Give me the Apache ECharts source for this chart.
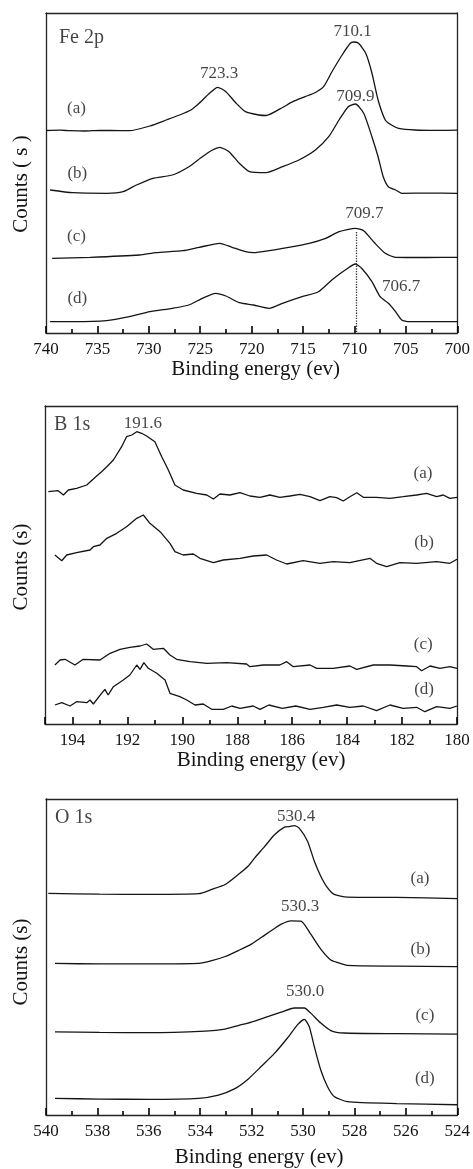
<!DOCTYPE html>
<html>
<head>
<meta charset="utf-8">
<script src="https://cdn.jsdelivr.net/npm/echarts@6/dist/echarts.min.js"></script>
<style>
  html, body { margin: 0; padding: 0; background: #fff; }
  #chart { width: 473px; height: 1169px; }
</style>
</head>
<body>
<div id="chart"></div>
<script>
// ---------- DATA (binding energy in eV, intensity in arbitrary counts) ----------
// Fe 2p spectra
const fe2pA = [[740.0,202.5],[738.6,202.8],[737.7,202.3],[736.2,202.0],[734.8,202.6],[732.8,202.4],[731.9,202.3],[729.9,207],[728.3,213],[727.0,218],[725.9,223],[725.1,229.7],[724.1,239.7],[723.3,245.7],[722.5,241.3],[721.5,229.7],[720.6,221.3],[719.3,218],[718.6,217.5],[717.0,225.5],[716.0,231.3],[714.8,236.3],[713.8,240.5],[713.0,246.3],[712.2,261],[711.2,278],[710.4,289.7],[710.1,291],[709.6,289.7],[708.9,279.7],[708.3,260],[707.7,233],[707.0,213],[706.4,208],[705.7,204.7],[704.1,203],[702.0,202.6],[700.0,202.8]];
const fe2pB = [[739.6,143],[737.4,140.3],[734.1,139.7],[732.5,141.3],[731.2,148],[729.6,154.7],[727.7,158],[726.1,166.3],[724.8,176.3],[723.8,183],[723.1,185.7],[722.2,181.3],[721.2,169.7],[720.2,161.3],[718.6,160.3],[717.0,166.3],[715.4,173],[713.8,183],[712.5,196.3],[711.5,213],[710.6,226.3],[709.9,229],[709.1,219.7],[708.3,196.3],[707.7,176.3],[707.2,156.3],[706.7,146.3],[706.0,143],[705.4,139.7],[702.8,139.9],[700.0,139.7]];
const fe2pC = [[739.4,74.7],[735.7,75.7],[730.9,78],[729.3,80.3],[726.7,82.3],[725.1,85.7],[723.1,89.7],[721.9,85.7],[720.6,81.3],[719.8,80.3],[718.3,82.3],[716.4,85.7],[714.4,89.7],[712.8,94.7],[711.5,101.3],[709.9,104.7],[709.1,102.3],[708.0,89.7],[707.0,79.7],[706.0,75.7],[703.0,75.5],[700.0,75.7]];
const fe2pD = [[739.6,11.3],[737.4,11.3],[734.1,12.3],[731.9,16.3],[729.9,21.3],[727.7,24.7],[726.1,28],[724.8,34.7],[723.5,39.7],[722.5,37],[721.2,30.3],[719.8,28],[718.3,24.7],[717.0,29.7],[715.1,36.3],[713.5,41.3],[712.2,53],[710.9,63],[709.9,69],[709.3,64.7],[708.3,51.3],[707.5,36.3],[706.7,29.7],[706.0,21.3],[705.4,13],[704.7,11.3],[700.0,11.3]];
const fe2pRefLine = [709.8, 101];

// B 1s spectra
const b1sA = [[194.88,232.3],[194.52,233.3],[194.33,229],[194.15,234],[193.85,235.7],[193.48,239],[193.12,248],[192.94,252.3],[192.75,257.3],[192.51,264],[192.21,277.3],[192.03,287.3],[191.84,289],[191.66,292.3],[191.48,290.7],[191.30,288],[191.00,282.3],[190.75,267.3],[190.51,254],[190.27,239],[189.97,234],[189.48,230.7],[189.11,229],[188.87,225],[188.63,230],[188.27,229],[187.90,231.3],[187.54,228],[187.17,226.7],[186.81,229],[186.45,226.7],[186.08,228],[185.72,229.7],[185.35,227.3],[184.99,223.3],[184.63,227.3],[184.38,226.3],[184.14,223],[183.90,227.3],[183.65,231.3],[183.41,226.7],[182.93,226.7],[182.44,225.7],[181.96,227.3],[181.47,229],[181.11,230.7],[180.74,227.3],[180.50,229],[180.26,225.7],[180.00,226.7]];
const b1sB = [[194.64,169],[194.39,163.3],[194.21,169],[193.85,171.3],[193.36,174],[193.24,177.3],[193.0,179],[192.75,185.7],[192.39,190.7],[192.03,197.3],[191.66,205.7],[191.42,209],[191.18,200.7],[190.81,192.3],[190.45,180.7],[190.27,172.3],[189.97,169],[189.60,170],[189.36,165.7],[188.87,161.3],[188.51,164],[187.90,165.7],[187.42,168],[186.93,169],[186.57,164],[186.20,160],[185.60,163.3],[184.99,160.7],[184.51,162.3],[183.90,161.3],[183.17,165.7],[182.93,160.7],[182.56,157.3],[182.08,161.3],[181.47,160.7],[180.74,162.3],[180.26,160.7],[180.0,164.7]];
const b1sC = [[194.64,59],[194.45,64],[194.27,64.7],[193.91,59],[193.61,64.7],[193.0,64],[192.63,70.7],[192.27,74.7],[191.91,76.7],[191.54,78],[191.30,80],[191.06,74.7],[190.69,75.7],[190.45,69],[190.21,64.7],[189.72,62.3],[189.11,60.7],[188.39,61.3],[187.66,60],[187.54,57.3],[187.05,59],[186.45,59],[186.20,62.3],[185.96,57.3],[185.35,59],[185.11,55.7],[184.51,55.7],[183.90,58],[183.65,54.7],[183.05,59],[182.44,59],[181.83,58],[181.47,57.3],[181.29,53.3],[180.98,58],[180.62,55.7],[180.26,57.3],[180.0,55.7]];
const b1sD = [[194.64,19],[194.39,21.3],[194.09,18],[193.85,22.3],[193.48,21.3],[193.36,24],[193.24,20],[192.94,30.7],[192.82,34.7],[192.70,29],[192.51,37.3],[192.15,44],[191.91,49],[191.66,59],[191.54,54.7],[191.40,61.3],[191.24,55.7],[190.93,50.7],[190.63,44],[190.45,30.7],[190.09,27.3],[189.84,24],[189.54,19],[189.24,20],[188.93,14.7],[188.51,14.7],[188.20,18],[187.90,15.7],[187.42,18],[187.17,14.7],[186.85,19],[186.36,15.7],[185.87,18],[185.35,14.7],[184.87,16.7],[184.38,19],[183.90,16.7],[183.41,18],[182.93,13.3],[182.44,19],[181.96,15.7],[181.47,16.7],[181.17,12.3],[180.74,17.3],[180.26,15.7],[180.0,18]];

// O 1s spectra
const o1sA = [[539.91,223],[537.92,222.3],[535.99,222],[534.06,222.7],[533.55,227],[533.03,232],[532.52,242],[532.14,250.3],[531.88,258.7],[531.49,270.3],[531.11,282],[530.72,289.7],[530.53,290.3],[530.34,291.3],[530.15,288.7],[529.82,275.3],[529.56,255.3],[529.31,240.3],[529.05,228.7],[528.79,222],[528.28,219.3],[526.35,219],[524.0,217.7]];
const o1sB = [[539.65,152.5],[537.92,152],[535.99,152],[534.06,152.5],[533.55,155.3],[533.03,159.5],[532.52,165.5],[532.01,172],[531.49,181],[531.11,187.7],[530.85,192],[530.47,195.3],[530.08,195],[529.70,182],[529.31,167],[528.92,156],[528.67,153.5],[528.28,150.5],[526.35,149.8],[524.0,149.3]];
const o1sC = [[539.65,83.7],[537.92,83.2],[535.99,82.8],[533.80,84.5],[533.03,86.5],[532.52,90],[532.01,93.5],[531.49,98],[530.85,103.5],[530.34,107.7],[529.95,107.7],[529.70,102.5],[529.31,92.5],[528.92,85],[528.41,82.5],[526.35,81.8],[524.0,81.3]];
const o1sD = [[539.65,16.8],[537.92,16],[535.99,15.8],[534.06,16.8],[533.29,20],[532.65,26.5],[532.14,36],[531.62,49],[531.11,62],[530.59,78],[530.21,91],[529.95,96.3],[529.76,89],[529.56,68.7],[529.31,45.3],[529.05,28.7],[528.79,18.7],[528.28,13.5],[526.35,11.5],[524.0,10.3]];

// Axis ranges / ticks
const xRanges = [[700, 740, 5], [180, 195, 2], [524, 540, 2]];
const yMax = [320, 318, 318];
const xTitle = 'Binding energy (ev)';
const yTitles = ['Counts ( s )', 'Counts (s)', 'Counts (s)'];

// Annotation texts with their data coordinates [eV, counts, text]
const titleAnchors = [[738.74, 295, 'Fe 2p'], [194.67, 299, 'B 1s'], [539.65, 298.7, 'O 1s']];
const peakTexts = [
  [[723.15, 259, '723.3'], [710.17, 301.3, '710.1'], [709.91, 236.3, '709.9'], [709.03, 119.7, '709.7'], [705.47, 46.3, '706.7']],
  [[191.44, 300.7, '191.6']],
  [[530.27, 300.3, '530.4'], [530.11, 209.3, '530.3'], [529.92, 124.3, '530.0']]
];
const curveTags = [
  [[737.03, 224.7, '(a)'], [736.95, 159.7, '(b)'], [737.03, 96.3, '(c)'], [736.95, 34.7, '(d)']],
  [[181.24, 250.7, '(a)'], [181.20, 181.7, '(b)'], [181.23, 79, '(c)'], [181.20, 34, '(d)']],
  [[525.45, 237.7, '(a)'], [525.43, 167, '(b)'], [525.26, 100.3, '(c)'], [525.26, 37, '(d)']]
];
const spectra = [[fe2pA, fe2pB, fe2pC, fe2pD], [b1sA, b1sB, b1sC, b1sD], [o1sA, o1sB, o1sC, o1sD]];

// ---------- LAYOUT / STYLE ----------
const FONT = '"Liberation Serif", "Times New Roman", serif';
const INK = '#141414';
const FRAME = '#222';
const TEXT = '#151515';
const grids = [
  { left: 46, top: 13, width: 413, height: 320 },
  { left: 45, top: 406, width: 412, height: 318 },
  { left: 46, top: 799, width: 415, height: 318 }
];
const nameGaps = [26, 26, 32];
const namePad = [8, 20, 15];
const showMax = [true, false, true];
const smoothing = [0.2, 0, 0.2];
const yTitlePos = [[21, 184], [21, 567], [21, 962]];
const frameLine = () => ({ show: true, onZero: false, lineStyle: { color: FRAME, width: 1.3 } });

const chart = echarts.init(document.getElementById('chart'), null, { renderer: 'canvas' });

const bottomAxes = xRanges.map((r, i) => ({
  type: 'value', gridIndex: i, position: 'bottom', inverse: true,
  min: r[0], max: r[1], interval: r[2],
  axisLine: frameLine(),
  axisTick: { show: true, inside: true, length: 7, lineStyle: { color: '#000', width: 1.6 } },
  minorTick: { show: true, splitNumber: 2, length: 4, lineStyle: { color: '#000', width: 1.6 } },
  axisLabel: { margin: 8, fontFamily: FONT, fontSize: 17, color: TEXT, showMinLabel: true, showMaxLabel: showMax[i] },
  splitLine: { show: false },
  z: 10,
  name: xTitle, nameLocation: 'middle', nameGap: nameGaps[i],
  nameTextStyle: { fontFamily: FONT, fontSize: 21, color: TEXT, padding: [0, 0, 0, namePad[i]] }
}));
const topAxes = xRanges.map((r, i) => ({
  type: 'value', gridIndex: i, position: 'top', inverse: true,
  min: r[0], max: r[1], interval: r[2],
  axisLine: frameLine(), axisTick: { show: false }, minorTick: { show: false },
  axisLabel: { show: false }, splitLine: { show: false }
}));
const leftAxes = yMax.map((m, i) => ({
  type: 'value', gridIndex: i, position: 'left', min: 0, max: m,
  axisLine: frameLine(), axisTick: { show: false }, axisLabel: { show: false }, splitLine: { show: false }
}));
const rightAxes = yMax.map((m, i) => ({
  type: 'value', gridIndex: i, position: 'right', min: 0, max: m,
  axisLine: frameLine(), axisTick: { show: false }, axisLabel: { show: false }, splitLine: { show: false }
}));

const option = {
  animation: false,
  backgroundColor: '#fff',
  grid: grids.map(g => Object.assign({ show: false }, g)),
  xAxis: bottomAxes.concat(topAxes),
  yAxis: leftAxes.concat(rightAxes),
  graphic: yTitles.map((t, i) => ({
    type: 'text', x: yTitlePos[i][0], y: yTitlePos[i][1], rotation: Math.PI / 2,
    style: { text: t, font: '21px ' + FONT, fill: TEXT, align: 'center', verticalAlign: 'middle', textAlign: 'center', textVerticalAlign: 'middle' }
  })),
  series: []
};

spectra.forEach((group, i) => {
  group.forEach((d, k) => {
    const s = {
      type: 'line', xAxisIndex: i, yAxisIndex: i, data: d,
      showSymbol: false, symbol: 'none', silent: true,
      smooth: smoothing[i],
      lineStyle: { color: INK, width: 1.3 }
    };
    if (i === 0 && k === 3) {
      s.markLine = {
        silent: true, symbol: 'none', label: { show: false },
        lineStyle: { type: 'dotted', color: '#333', width: 1.3 },
        data: [[{ coord: [fe2pRefLine[0], fe2pRefLine[1]] }, { coord: [fe2pRefLine[0], 0] }]]
      };
    }
    option.series.push(s);
  });
  option.series.push({
    type: 'scatter', xAxisIndex: i, yAxisIndex: i, symbolSize: 0, silent: true,
    data: [titleAnchors[i]],
    label: { show: true, position: 'right', distance: 0, formatter: p => p.value[2], fontFamily: FONT, fontSize: 20, color: TEXT }
  });
  option.series.push({
    type: 'scatter', xAxisIndex: i, yAxisIndex: i, symbolSize: 0, silent: true,
    data: peakTexts[i],
    label: { show: true, position: 'inside', formatter: p => p.value[2], fontFamily: FONT, fontSize: 17, color: TEXT }
  });
  option.series.push({
    type: 'scatter', xAxisIndex: i, yAxisIndex: i, symbolSize: 0, silent: true,
    data: curveTags[i],
    label: { show: true, position: 'inside', formatter: p => p.value[2], fontFamily: FONT, fontSize: 17, color: TEXT }
  });
});

chart.setOption(option);
</script>
</body>
</html>
